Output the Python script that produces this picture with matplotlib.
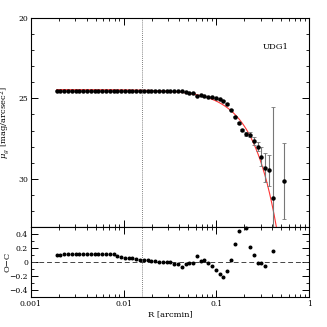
import numpy as np
import matplotlib
matplotlib.use("Agg")
import matplotlib.pyplot as plt
from matplotlib.ticker import LogLocator, MultipleLocator, NullFormatter, FixedLocator

plt.rcParams['font.family'] = ['DejaVu Serif']
plt.rcParams['mathtext.fontset'] = 'dejavuserif'

# radii [arcmin] of the profile points
R_top = [0.001905, 0.002093, 0.002299, 0.002526, 0.002774, 0.003048, 0.003348, 0.003677,
         0.004040, 0.004437, 0.004875, 0.005355, 0.005882, 0.006461, 0.007097, 0.007798,
         0.008565, 0.009410, 0.010337, 0.011354, 0.012474, 0.013702, 0.015052, 0.016535,
         0.018163, 0.019953, 0.021918, 0.024077, 0.026448, 0.029054, 0.031915, 0.035059,
         0.038513, 0.042305, 0.046473, 0.051050, 0.056080, 0.061603, 0.067670, 0.074336,
         0.081658, 0.089700, 0.098537, 0.10824, 0.11890, 0.13062, 0.14349, 0.15761,
         0.17314, 0.19019, 0.20893, 0.22951, 0.25212, 0.27695, 0.30423, 0.33420,
         0.36710, 0.40327, 0.5346]
mu_top = [24.52, 24.52, 24.52, 24.52, 24.52, 24.52, 24.52, 24.52,
          24.52, 24.52, 24.52, 24.52, 24.52, 24.52, 24.52, 24.52,
          24.52, 24.52, 24.52, 24.52, 24.52, 24.52, 24.52, 24.52,
          24.52, 24.52, 24.52, 24.53, 24.53, 24.53, 24.53, 24.53,
          24.53, 24.55, 24.60, 24.64, 24.66, 24.82, 24.80, 24.86,
          24.89, 24.93, 24.99, 25.05, 25.13, 25.36, 25.69, 26.13,
          26.54, 26.96, 27.22, 27.27, 27.63, 28.02, 28.63, 29.32,
          29.48, 31.23, 30.13]
err_top = [0.02] * 45 + [0.05, 0.05, 0.05, 0.05, 0.05,
                         0.10, 0.15, 0.25, 0.28, 0.60, 0.90, 0.95, 5.7, 2.38]

# O-C residuals
R_res = [0.001905, 0.002093, 0.002299, 0.002526, 0.002774, 0.003048, 0.003348, 0.003677,
         0.004040, 0.004437, 0.004875, 0.005355, 0.005882, 0.006461, 0.007097, 0.007798,
         0.008565, 0.009410, 0.010337, 0.011354, 0.012474, 0.013702, 0.015052, 0.016535,
         0.018163, 0.019953, 0.021918, 0.024077, 0.026448, 0.029054, 0.031915, 0.035059,
         0.038513, 0.042305, 0.046473, 0.051050, 0.056080, 0.061603, 0.067670, 0.074336,
         0.081658, 0.089700, 0.098537, 0.10824, 0.11890, 0.13062, 0.14349, 0.15761,
         0.17314, 0.20893, 0.22951, 0.25212, 0.27695, 0.30423, 0.33420, 0.40327]
oc = [0.100, 0.100, 0.105, 0.105, 0.105, 0.105, 0.105, 0.112,
      0.112, 0.110, 0.110, 0.110, 0.110, 0.110, 0.110, 0.110,
      0.086, 0.071, 0.062, 0.057, 0.048, 0.043, 0.033, 0.033,
      0.033, 0.014, 0.010, 0.005, -0.005, -0.005, 0.005, -0.029,
      -0.033, -0.067, -0.024, -0.019, -0.019, 0.086, 0.014, 0.029,
      -0.014, -0.062, -0.114, -0.171, -0.210, -0.133, 0.033, 0.257,
      0.433, 0.486, 0.205, 0.095, -0.014, -0.019, -0.052, 0.148]

# Sersic-like model curve parameters
mu0, h, beta = 24.45, 0.128, 1.667
R_vline = 0.0157
label = "UDG1"

fig = plt.figure(figsize=(3.27, 3.27), dpi=100)
ax1 = fig.add_axes([0.0939, 0.3067, 0.852, 0.6373])
ax2 = fig.add_axes([0.0939, 0.0917, 0.852, 0.2150], sharex=ax1)

rr = np.logspace(np.log10(R_top[0]), np.log10(0.6), 400)
ax1.plot(rr, mu0 + 1.0857 * (rr / h) ** beta, color='#ff3333', lw=0.8, zorder=2)
ax1.errorbar(R_top, mu_top, yerr=err_top, fmt='o', color='black', ms=2.2,
             ecolor='#777777', elinewidth=0.8, capsize=1.5, capthick=0.6, zorder=3)
ax1.axvline(R_vline, color='#555555', ls=(0, (1, 1.5)), lw=0.6)
ax1.set_xscale('log')
ax1.set_xlim(0.001, 1)
ax1.set_ylim(33, 20)
ax1.yaxis.set_major_locator(FixedLocator([20, 25, 30]))
ax1.yaxis.set_minor_locator(MultipleLocator(1))
ax1.set_ylabel(r'$\mu_g$ [mag/arcsec$^2$]', fontsize=6)
ax1.yaxis.set_label_coords(-0.068, 0.5)
ax1.text(0.834, 0.862, label, transform=ax1.transAxes, fontsize=6, va='center', ha='left')
plt.setp(ax1.get_xticklabels(), visible=False)

ax2.scatter(R_res, oc, s=3.5, color='black', zorder=3, clip_on=False)
ax2.axhline(0, color='#444444', ls=(0, (5, 3)), lw=0.7)
ax2.axvline(R_vline, color='#555555', ls=(0, (1, 1.5)), lw=0.6)
ax2.set_ylim(-0.5, 0.5)
ax2.yaxis.set_major_locator(FixedLocator([-0.4, -0.2, 0, 0.2, 0.4]))
ax2.yaxis.set_minor_locator(MultipleLocator(0.1))
ax2.set_yticklabels(['\u22120.4', '\u22120.2', '0', '0.2', '0.4'])
ax2.set_ylabel('O\u2212C', fontsize=6)
ax2.yaxis.set_label_coords(-0.068, 0.5)
ax2.set_xlabel('R [arcmin]', fontsize=6, labelpad=2)
ax2.set_xticks([0.001, 0.01, 0.1, 1])
ax2.xaxis.set_minor_locator(LogLocator(base=10, subs=np.arange(2, 10), numticks=10))
ax2.xaxis.set_minor_formatter(NullFormatter())
ax2.set_xticklabels(['0.001', '0.01', '0.1', '1'])

for ax in (ax1, ax2):
    ax.tick_params(which='both', direction='in', top=True, right=True, labelsize=5.5, pad=2)
    ax.tick_params(which='major', length=5, width=0.7)
    ax.tick_params(which='minor', length=2.5, width=0.6)
    for s in ax.spines.values():
        s.set_linewidth(0.8)

fig.savefig('out.png', dpi=100)
